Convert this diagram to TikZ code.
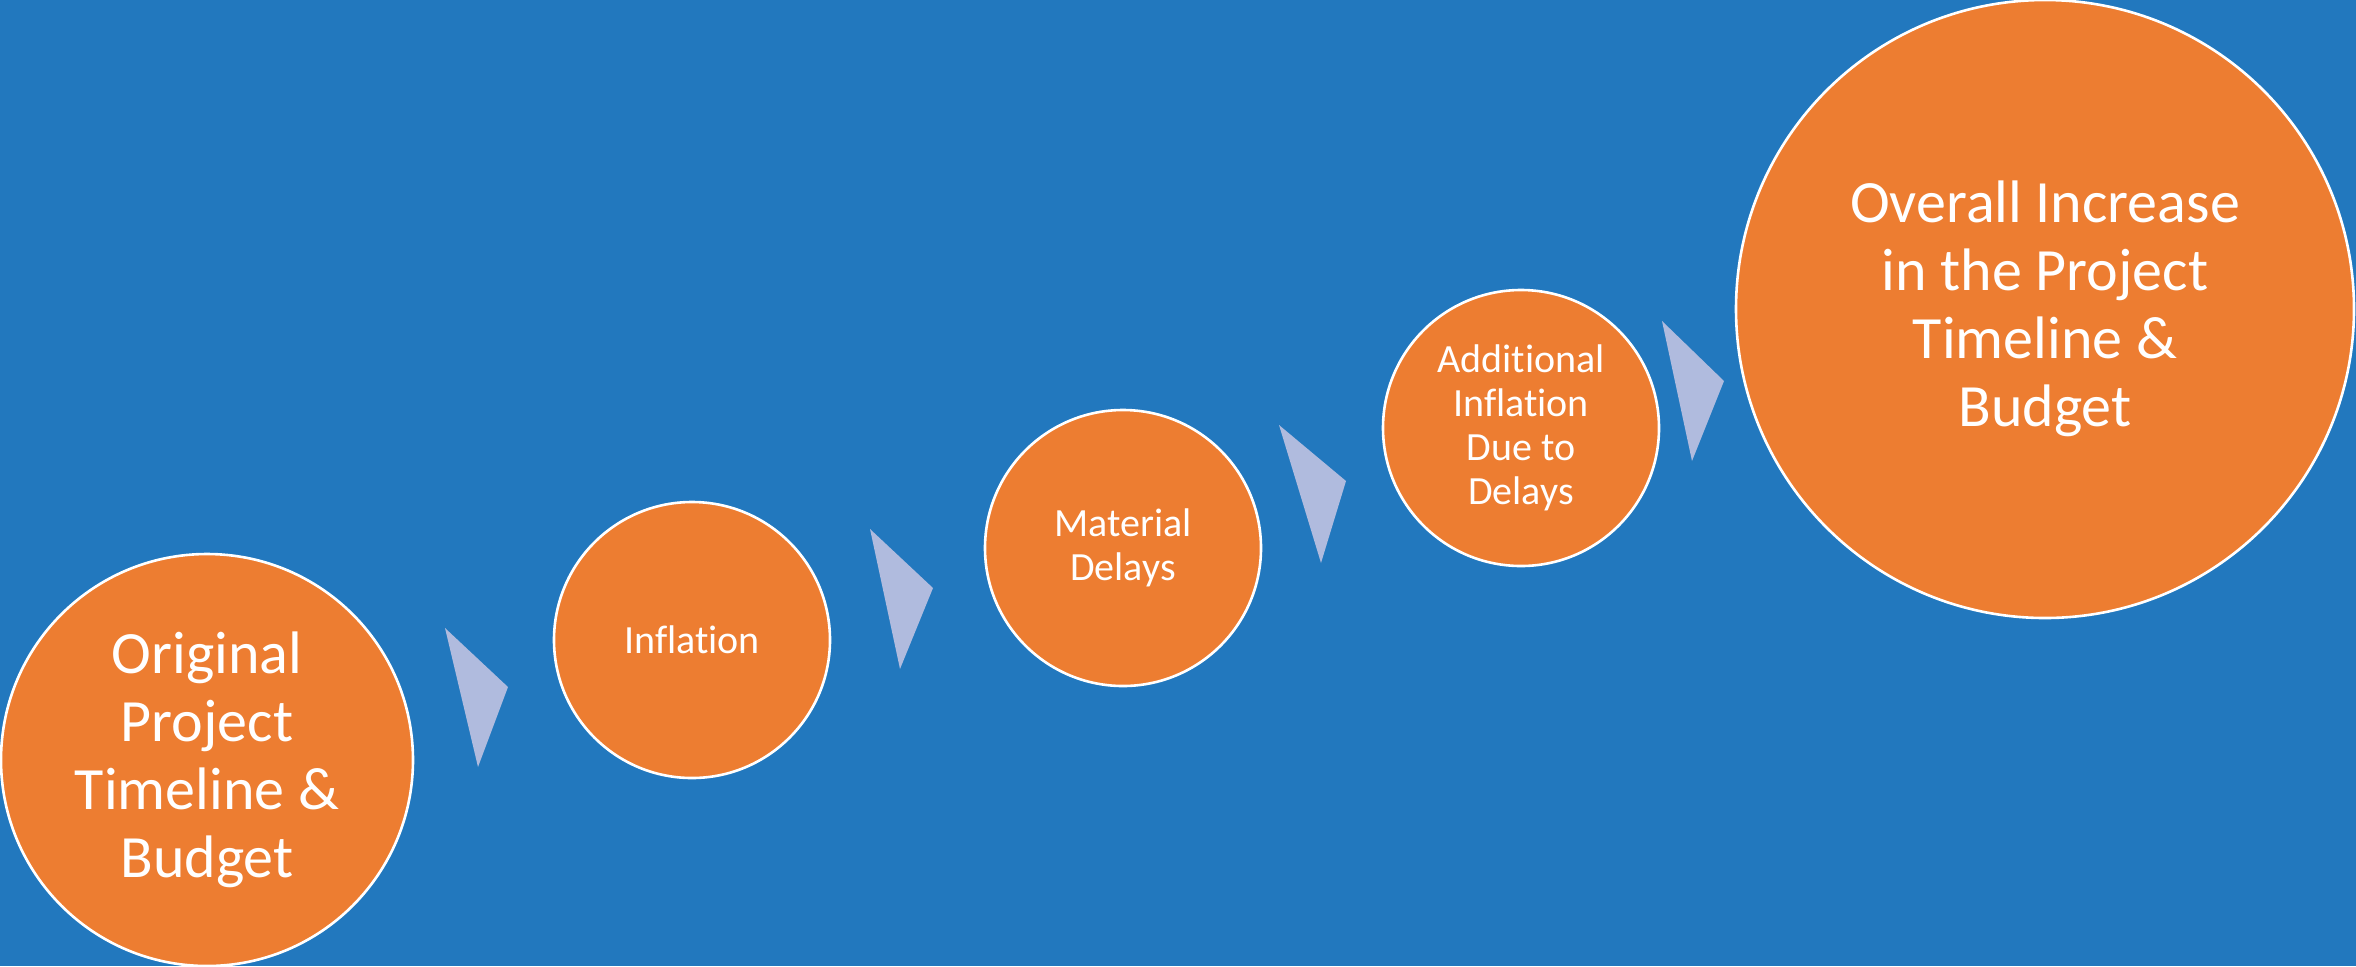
\documentclass[tikz,border=0pt]{standalone}
\usepackage{fontspec}
\setmainfont[Ligatures={NoCommon}]{Carlito}
\definecolor{bgblue}{RGB}{34,120,190}
\definecolor{stepor}{RGB}{237,125,49}
\definecolor{chev}{RGB}{176,187,222}
\begin{document}
\begin{tikzpicture}[x=0.5pt,y=-0.5pt,
  bubble/.style={circle,fill=stepor,draw=white,line width=1.3pt,inner sep=0pt,
    text=white,align=center},
  bigtxt/.style={font=\fontsize{30pt}{34pt}\selectfont},
  smalltxt/.style={font=\fontsize{20pt}{22pt}\selectfont},
  chevron/.style={fill=chev}]
\fill[bgblue] (0,0) rectangle (2356,966);
\useasboundingbox (0,0) rectangle (2356,966);
\node[bubble,bigtxt,minimum size=206pt] (c1) at (207,760) {Original\\Project\\Timeline \&\\Budget};
\node[bubble,smalltxt,minimum size=138pt] (c2) at (692,640) {Inflation};
\node[bubble,smalltxt,minimum size=138pt] (c3) at (1123,548) {Material\\Delays};
\node[bubble,smalltxt,minimum size=138pt] (c4) at (1521,428) {Additional\\Inflation\\Due to\\Delays};
\node[bubble,bigtxt,minimum size=309pt] (c5) at (2045,309) {Overall Increase\\in the Project\\Timeline \&\\Budget};
\fill[chevron] (445,628) -- (508,687) -- (478,767) -- cycle;
\fill[chevron] (870,529) -- (933,588) -- (900,669) -- cycle;
\fill[chevron] (1279,425) -- (1346,481) -- (1321,563) -- cycle;
\fill[chevron] (1662,321) -- (1724,381) -- (1692,461) -- cycle;
\end{tikzpicture}
\end{document}
